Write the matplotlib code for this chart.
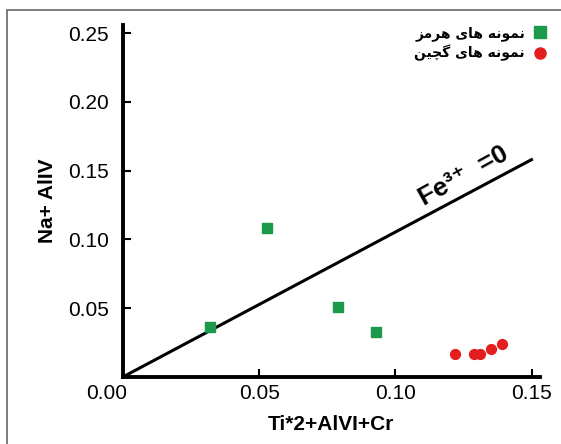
import matplotlib.pyplot as plt
import matplotlib.transforms as mtransforms
from matplotlib.lines import Line2D
from matplotlib.patches import Rectangle

plt.rcParams['font.family'] = ['Liberation Sans', 'DejaVu Sans']

# Hormuz samples (green squares)
hormuz_x = [0.032, 0.053, 0.079, 0.093]
hormuz_y = [0.036, 0.108, 0.051, 0.033]

# Gachin samples (red dots)
gachin_x = [0.122, 0.129, 0.131, 0.135, 0.139]
gachin_y = [0.017, 0.017, 0.017, 0.020, 0.024]

# Fe3+ = 0 reference line
line_x = [0.0, 0.15]
line_y = [0.0, 0.158]

x_ticks = [0.0, 0.05, 0.10, 0.15]
x_ticklabels = ['0.00', '0.05', '0.10', '0.15']
y_ticks = [0.05, 0.10, 0.15, 0.20, 0.25]
y_ticklabels = ['0.05', '0.10', '0.15', '0.20', '0.25']

# Persian labels written in visual order with presentation forms
label_hormuz = '\uFEB0\uFEE3\uFEAE\uFEEB \uFEEF\uFE8E\uFEEB \uFEEA\uFEE7\uFEEE\uFEE4\uFEE7'
label_gachin = '\uFEE6\uFEF4\uFB7D\uFB94 \uFEEF\uFE8E\uFEEB \uFEEA\uFEE7\uFEEE\uFEE4\uFEE7'

green = '#1c9a4c'
red = '#e41e1e'

fig = plt.figure(figsize=(5.61, 4.44), dpi=100)
ax = fig.add_axes([0.219, 0.151, 0.743, 0.793])

ax.plot(line_x, line_y, color='black', lw=2.2)
ax.scatter(hormuz_x, hormuz_y, marker='s', s=42, color=green, zorder=3)
ax.scatter(gachin_x, gachin_y, marker='o', s=50, color=red, zorder=3)

ax.set_xlim(0, 0.153)
ax.set_ylim(0, 0.256)
ax.set_xticks(x_ticks)
ax.set_xticklabels(x_ticklabels)
ax.set_yticks(y_ticks)
ax.set_yticklabels(y_ticklabels)
ax.tick_params(direction='in', length=6, width=1.5, labelsize=15)
ax.tick_params(axis='y', pad=10)
ax.tick_params(axis='x', pad=5)

# the 0.00 corner label sits a bit left of the origin
zero_lbl = ax.get_xticklabels()[0]
zero_lbl.set_transform(zero_lbl.get_transform() +
                       mtransforms.ScaledTranslation(-0.16, 0, fig.dpi_scale_trans))

for side in ['top', 'right']:
    ax.spines[side].set_visible(False)
for side in ['left', 'bottom']:
    ax.spines[side].set_linewidth(2.8)

ax.set_xlabel('Ti*2+AlVI+Cr', fontsize=15, fontweight='bold', labelpad=9)
ax.set_ylabel('Na+ AlIV', fontsize=15, fontweight='bold', labelpad=8)

ax.text(0.125, 0.146, 'Fe\u00b3\u207a  =0', fontsize=19, fontweight='bold',
        rotation=29, ha='center', va='center', rotation_mode='anchor')

handles = [
    Line2D([], [], marker='s', color=green, ls='none', markersize=8),
    Line2D([], [], marker='o', color=red, ls='none', markersize=8),
]
fig.legend(handles, [label_hormuz, label_gachin], loc='upper right',
           bbox_to_anchor=(1.01, 0.97), frameon=False, markerfirst=False,
           handletextpad=0.1, labelspacing=0.3,
           prop={'family': 'DejaVu Sans', 'size': 10, 'weight': 'bold'})

fig.patches.append(Rectangle((7 / 561, -0.1), 1.2, (434 / 444) + 0.1,
                             transform=fig.transFigure, fill=False,
                             edgecolor='#666666', lw=1.2))

fig.savefig('out.png', dpi=100)
